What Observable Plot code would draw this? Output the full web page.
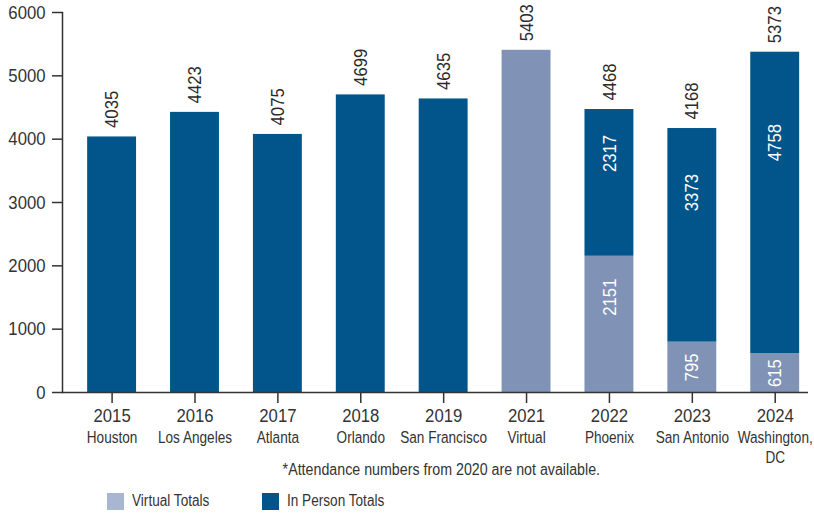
<!DOCTYPE html>
<html>
<head>
<meta charset="utf-8">
<script src="https://cdn.jsdelivr.net/npm/d3@7"></script>
<script src="https://cdn.jsdelivr.net/npm/@observablehq/plot@0.6"></script>
<style>
  body { margin: 0; background: #fff; color: #333; font-family: "Liberation Sans", Arial, sans-serif; }
  #caption { font-size: 16px; line-height: 18px; text-align: center; margin-left: 68px; }
  #caption span { display: inline-block; transform: scaleX(0.89); transform-origin: center; white-space: nowrap; }
  #legend { display: flex; align-items: center; margin-top: 13px; margin-left: 107px; font-size: 16px; }
  .item { display: flex; align-items: center; width: 155px; }
  .sw { width: 17px; height: 17px; margin-right: 8px; flex: none; }
  .item span { display: inline-block; transform: scaleX(0.85); transform-origin: left center; white-space: nowrap; }
</style>
</head>
<body>
<div id="chart"></div>
<div id="caption"></div>
<div id="legend"></div>
<script>
const years = ["2015", "2016", "2017", "2018", "2019", "2021", "2022", "2023", "2024"];
const cities = ["Houston", "Los Angeles", "Atlanta", "Orlando", "San Francisco", "Virtual", "Phoenix", "San Antonio", "Washington,\nDC"];
const virtualTotals = [0, 0, 0, 0, 0, 5403, 2151, 795, 615];
const inPersonTotals = [4035, 4423, 4075, 4699, 4635, 0, 2317, 3373, 4758];
const totals = [4035, 4423, 4075, 4699, 4635, 5403, 4468, 4168, 5373];
const yTicks = [0, 1000, 2000, 3000, 4000, 5000, 6000];
const seriesNames = ["Virtual Totals", "In Person Totals"];
const barColors = ["#8093b6", "#02558a"];
const legendColors = ["#a9b6d1", "#02558a"];
const captionText = "*Attendance numbers from 2020 are not available.";

const FONT = '"Liberation Sans", Arial, sans-serif';

const rows = [];
years.forEach((yr, i) => {
  if (virtualTotals[i] > 0) rows.push({year: yr, type: seriesNames[0], y1: 0, y2: virtualTotals[i], value: virtualTotals[i]});
  if (inPersonTotals[i] > 0) rows.push({year: yr, type: seriesNames[1], y1: virtualTotals[i], y2: virtualTotals[i] + inPersonTotals[i], value: inPersonTotals[i]});
});
const split = rows.filter(d => {
  const i = years.indexOf(d.year);
  return virtualTotals[i] > 0 && inPersonTotals[i] > 0;
});
const totalRows = years.map((yr, i) => ({year: yr, total: totals[i], top: virtualTotals[i] + inPersonTotals[i]}));

const chart = Plot.plot({
  width: 814,
  height: 461,
  marginLeft: 62,
  marginRight: 6,
  marginTop: 12,
  marginBottom: 69,
  style: {fontFamily: FONT, fontSize: "19px", color: "#333", overflow: "visible", background: "#fff"},
  x: {type: "band", domain: years, paddingInner: 0.41, paddingOuter: 0.205, align: 0.74, round: false, label: null},
  y: {domain: [0, 6000], label: null},
  color: {domain: seriesNames, range: barColors},
  marks: [
    Plot.barY(rows, {x: "year", y1: "y1", y2: "y2", fill: "type"}),
    Plot.text(split, {
      x: "year",
      y: d => d.y1 + d.value * (d.value < 1000 ? 0.5 : 0.7),
      text: d => String(d.value),
      rotate: -90,
      fill: "white",
      fontSize: 19
    }),
    Plot.text(totalRows, {
      x: "year", y: "top", text: d => String(d.total),
      rotate: -90, textAnchor: "start", dy: -9, fill: "#2a2a2a", fontSize: 19
    }),
    Plot.text(years, {
      x: d => d, text: (d, i) => cities[i], frameAnchor: "bottom", dy: 36,
      lineAnchor: "top", lineHeight: 1.2, fontSize: 17, fill: "#333"
    }),
    Plot.axisY({ticks: yTicks, tickSize: 10, tickPadding: 7, tickFormat: d => String(d), label: null, stroke: "#333", strokeWidth: 1.5, fill: "#333", fontSize: 19}),
    Plot.axisX({tickSize: 11, tickPadding: 5, tickFormat: d => d, label: null, stroke: "#333", strokeWidth: 1.5, fill: "#333", fontSize: 19}),
    Plot.frame({anchor: "left", stroke: "#333", strokeWidth: 1.5}),
    Plot.ruleY([0], {stroke: "#333", strokeWidth: 1.5})
  ]
});
document.getElementById("chart").appendChild(chart);

// condense glyphs horizontally (the reference uses a condensed face)
function squeezeNodes(nodes, s) {
  nodes.forEach(node => {
    d3.select(node).selectAll("text").each(function() {
      let t = this.getAttribute("transform") || "";
      const x = this.getAttribute("x");
      if (x !== null && isFinite(+x) && +x !== 0) {
        t = `${t} translate(${+x},0)`;
        this.setAttribute("x", 0);
      }
      this.setAttribute("transform", `${t} scale(${s},1)`);
    });
  });
}
const textGroups = d3.select(chart).selectAll('g[aria-label="text"]').nodes();
// order: segment labels, total labels, city labels
squeezeNodes([textGroups[0], textGroups[1]], 0.88);
squeezeNodes([textGroups[2]], 0.8);
squeezeNodes(d3.select(chart).selectAll('g[aria-label="y-axis tick label"], g[aria-label="x-axis tick label"]').nodes(), 0.88);

const cap = document.createElement("span");
cap.textContent = captionText;
document.getElementById("caption").appendChild(cap);

const legend = document.getElementById("legend");
seriesNames.forEach((name, i) => {
  const item = document.createElement("div");
  item.className = "item";
  const sw = document.createElement("div");
  sw.className = "sw";
  sw.style.background = legendColors[i];
  const t = document.createElement("span");
  t.textContent = name;
  item.appendChild(sw);
  item.appendChild(t);
  legend.appendChild(item);
});
</script>
</body>
</html>
